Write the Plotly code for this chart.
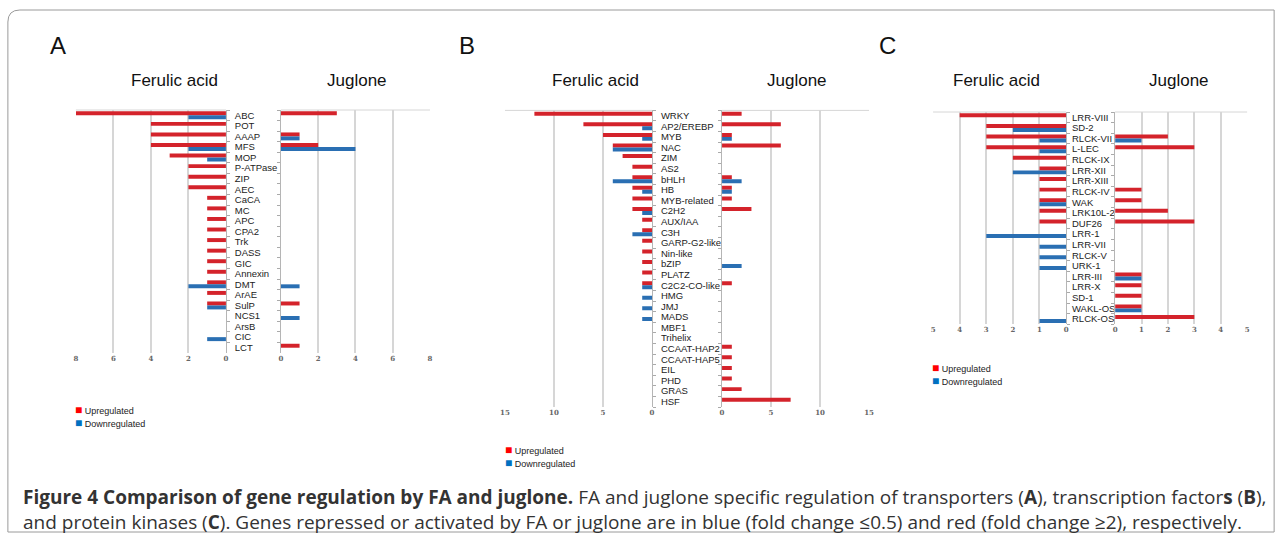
import plotly.graph_objects as go

W, H = 1282, 538

# ---------------- data ----------------
transporters = ["ABC", "POT", "AAAP", "MFS", "MOP", "P-ATPase", "ZIP", "AEC", "CaCA", "MC",
                "APC", "CPA2", "Trk", "DASS", "GIC", "Annexin", "DMT", "ArAE", "SulP", "NCS1",
                "ArsB", "CIC", "LCT"]
a_fa_up = [8, 4, 4, 4, 3, 2, 2, 2, 1, 1, 1, 1, 1, 1, 1, 1, 1, 1, 1, 0, 0, 0, 0]
a_fa_down = [2, 0, 0, 2, 1, 0, 0, 0, 0, 0, 0, 0, 0, 0, 0, 0, 2, 0, 1, 0, 0, 1, 0]
a_ju_up = [3, 0, 1, 2, 0, 0, 0, 0, 0, 0, 0, 0, 0, 0, 0, 0, 0, 0, 1, 0, 0, 0, 1]
a_ju_down = [0, 0, 1, 4, 0, 0, 0, 0, 0, 0, 0, 0, 0, 0, 0, 0, 1, 0, 0, 1, 0, 0, 0]

tfs = ["WRKY", "AP2/EREBP", "MYB", "NAC", "ZIM", "AS2", "bHLH", "HB", "MYB-related", "C2H2",
       "AUX/IAA", "C3H", "GARP-G2-like", "Nin-like", "bZIP", "PLATZ", "C2C2-CO-like", "HMG",
       "JMJ", "MADS", "MBF1", "Trihelix", "CCAAT-HAP2", "CCAAT-HAP5", "EIL", "PHD", "GRAS", "HSF"]
b_fa_up = [12, 7, 5, 4, 3, 2, 2, 2, 2, 2, 1, 1, 1, 1, 1, 1, 1, 0, 0, 0, 0, 0, 0, 0, 0, 0, 0, 0]
b_fa_down = [0, 1, 1, 4, 0, 0, 4, 1, 0, 1, 0, 2, 0, 0, 0, 0, 1, 1, 1, 1, 0, 0, 0, 0, 0, 0, 0, 0]
b_ju_up = [2, 6, 1, 6, 0, 0, 1, 1, 1, 3, 0, 0, 0, 0, 0, 0, 1, 0, 0, 0, 0, 0, 1, 1, 1, 1, 2, 7]
b_ju_down = [0, 0, 1, 0, 0, 0, 2, 1, 0, 0, 0, 0, 0, 0, 2, 0, 0, 0, 0, 0, 0, 0, 0, 0, 0, 0, 0, 0]

kinases = ["LRR-VIII", "SD-2", "RLCK-VII", "L-LEC", "RLCK-IX", "LRR-XII", "LRR-XIII", "RLCK-IV",
           "WAK", "LRK10L-2", "DUF26", "LRR-1", "LRR-VII", "RLCK-V", "URK-1", "LRR-III", "LRR-X",
           "SD-1", "WAKL-OS", "RLCK-OS"]
c_fa_up = [4, 3, 3, 3, 2, 1, 1, 1, 1, 1, 1, 0, 0, 0, 0, 0, 0, 0, 0, 0]
c_fa_down = [0, 2, 1, 1, 0, 2, 0, 0, 1, 0, 0, 3, 1, 1, 1, 0, 0, 0, 0, 1]
c_ju_up = [0, 0, 2, 3, 0, 0, 0, 1, 1, 2, 3, 0, 0, 0, 0, 1, 1, 1, 1, 3]
c_ju_down = [0, 0, 1, 0, 0, 0, 0, 0, 0, 0, 0, 0, 0, 0, 0, 1, 0, 0, 1, 0]

a_ticks = [0, 2, 4, 6, 8]
b_ticks = [0, 5, 10, 15]
c_ticks = [0, 1, 2, 3, 4, 5]

RED = "#d4232b"
BLUE = "#2a6fb3"
GRID = "#d6d6d6"


def px(x):
    # horizontal pixel -> paper (small correction for the observed horizontal squeeze)
    return (640 + (x - 640) / 0.992) / W


def py(y):
    return 1 - y / H


fig = go.Figure()

panels = [
    # (categories, fa_up, fa_down, ju_up, ju_down, fa_px, ju_px, y_px, max, ticks, standoff)
    (transporters, a_fa_up, a_fa_down, a_ju_up, a_ju_down, (76, 226), (281, 430), (110, 353), 8, a_ticks, 6),
    (tfs, b_fa_up, b_fa_down, b_ju_up, b_ju_down, (505, 652), (722, 869), (110.4, 407), 15, b_ticks, 6),
    (kinases, c_fa_up, c_fa_down, c_ju_up, c_ju_down, (933, 1066), (1115, 1247), (112, 324.3), 5, c_ticks, 3),
]

layout_axes = {}
shapes = []
ax = 0
for p, (cats, fu, fd, ju, jd, fpx, jpx, ypx, vmax, ticks, stand) in enumerate(panels):
    ydom = [py(ypx[1]), py(ypx[0])]
    for side, (up, down, dom, rng) in enumerate([
        (fu, fd, fpx, [vmax, 0]),
        (ju, jd, jpx, [0, vmax]),
    ]):
        ax += 1
        sfx = "" if ax == 1 else str(ax)
        xa, ya = "x" + sfx, "y" + sfx
        fig.add_trace(go.Bar(y=cats, x=up, orientation="h", xaxis=xa, yaxis=ya,
                             marker=dict(color=RED, line=dict(width=0)),
                             name="Upregulated", showlegend=False))
        fig.add_trace(go.Bar(y=cats, x=down, orientation="h", xaxis=xa, yaxis=ya,
                             marker=dict(color=BLUE, line=dict(width=0)),
                             name="Downregulated", showlegend=False))
        layout_axes["xaxis" + sfx] = dict(
            domain=[px(dom[0]), px(dom[1])], range=rng, anchor=ya,
            tickvals=ticks, showgrid=True, gridcolor=GRID, gridwidth=1.5,
            zeroline=False, showline=False, ticks="",
            tickfont=dict(family="DejaVu Serif", size=7, color="#666", weight="bold"),
        )
        is_fa = side == 0
        layout_axes["yaxis" + sfx] = dict(
            domain=ydom, anchor=xa, type="category", categoryorder="array",
            categoryarray=cats, range=[len(cats) - 0.5, -0.5],
            tickmode="array", tickvals=cats, ticktext=cats,
            side="right" if is_fa else "left",
            showticklabels=is_fa, ticks="outside", ticklen=3, tickcolor="#aaa",
            tickson="boundaries", showline=True, linecolor="#b5b5b5", linewidth=1,
            showgrid=False, zeroline=False,
            tickfont=dict(family="Liberation Sans", size=9.5, color="#222"),
            ticklabelstandoff=stand,
        )
        shapes.append(dict(type="line", xref=xa + " domain", yref=ya + " domain",
                           x0=0, x1=1, y0=1, y1=1, line=dict(color=GRID, width=1)))

annotations = []
# panel letters & titles
for letter, lx, fa_x, ju_x in [("A", 58, 175, 357), ("B", 467, 596, 797), ("C", 887, 996, 1179)]:
    annotations.append(dict(text=letter, x=px(lx), y=py(46), xref="paper", yref="paper",
                            showarrow=False, font=dict(family="Liberation Sans", size=24, color="#111"),
                            xanchor="center", yanchor="middle"))
    annotations.append(dict(text="Ferulic acid", x=px(fa_x), y=py(80), xref="paper", yref="paper",
                            showarrow=False, font=dict(family="Liberation Sans", size=17, color="#111"),
                            xanchor="center", yanchor="middle"))
    annotations.append(dict(text="Juglone", x=px(ju_x), y=py(80), xref="paper", yref="paper",
                            showarrow=False, font=dict(family="Liberation Sans", size=17, color="#111"),
                            xanchor="center", yanchor="middle"))

# legends
for lx, ly in [(73, 410), (503, 450), (930, 368)]:
    for i, (lab, col) in enumerate([("Upregulated", "#ff0000"), ("Downregulated", "#0070c0")]):
        annotations.append(dict(
            text=f'<span style="color:{col};font-size:12px">■</span> {lab}', x=px(lx),
            y=py(ly + 13 * i),
            xref="paper", yref="paper", showarrow=False, xanchor="left", yanchor="middle",
            font=dict(family="Liberation Sans", size=9, color="#222")))

# caption
caption = ("<b>Figure 4 Comparison of gene regulation by FA and juglone.</b> FA and juglone specific "
           "regulation of transporters (<b>A</b>), transcription factor<b>s</b> (<b>B</b>),<br>"
           "and protein kinases (<b>C</b>). Genes repressed or activated by FA or juglone are in blue "
           "(fold change ≤0.5) and red (fold change ≥2), respectively.")
annotations.append(dict(text=caption, x=px(21), y=py(509), xref="paper", yref="paper",
                        showarrow=False, xanchor="left", yanchor="middle", align="left",
                        font=dict(family="Open Sans", size=19, color="#333")))

# frame
shapes.append(dict(type="path", xref="paper", yref="paper",
                   path=(f"M {px(8)},{py(22)} Q {px(8)},{py(10)} {px(20)},{py(10)} "
                         f"L {px(1274)},{py(10)} L {px(1274)},{py(532)} L {px(8)},{py(532)} Z"),
                   line=dict(color="#9a9a9a", width=1)))

fig.update_layout(
    width=W, height=H, margin=dict(l=0, r=0, t=0, b=0),
    paper_bgcolor="white", plot_bgcolor="white",
    barmode="group", bargap=0.25, bargroupgap=0,
    showlegend=False, annotations=annotations, shapes=shapes,
    **layout_axes,
)

fig.write_html("out.html", config={"displayModeBar": False},
               post_script="document.body.style.margin='0';document.body.style.overflow='hidden';")
